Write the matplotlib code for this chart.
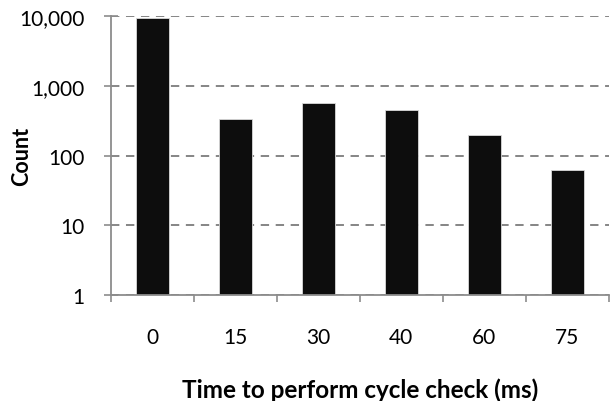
import matplotlib
matplotlib.use("Agg")
import matplotlib.pyplot as plt
from matplotlib.ticker import FixedLocator, FuncFormatter

categories = ["0", "15", "30", "40", "60", "75"]
counts = [9600, 339, 569, 446, 197, 63]
y_ticks = [1, 10, 100, 1000, 10000]

plt.rcParams['font.family'] = ['Lato', 'DejaVu Sans']

fig = plt.figure(figsize=(6.10, 4.02), dpi=100)
ax = fig.add_axes([0.1815, 0.2644, 0.8165, 0.6921])

x = list(range(len(categories)))
ax.bar(x, counts, width=0.4, color="#0d0d0d", edgecolor="#d9d9d9", linewidth=0.6, zorder=3)

ax.set_yscale("log")
ax.set_ylim(1, 10000)
ax.set_xlim(-0.5, len(categories) - 0.5)

ax.yaxis.set_major_locator(FixedLocator(y_ticks))
ax.yaxis.set_minor_locator(FixedLocator([]))
ax.yaxis.set_major_formatter(FuncFormatter(lambda v, p: f"{int(v):,}"))

ax.set_xticks(x)
ax.set_xticklabels(categories)
ax.set_xticks([i - 0.5 for i in range(len(categories) + 1)], minor=True)

grid_color = "#858585"
ax.grid(axis="y", which="major", linestyle=(0, (4.3, 3.4)), color=grid_color, linewidth=1.4, zorder=0)
for s in ["top", "right"]:
    ax.spines[s].set_visible(False)
for s in ["left", "bottom"]:
    ax.spines[s].set_color("#8c8c8c")
    ax.spines[s].set_linewidth(1.3)
    ax.spines[s].set_zorder(4)

ax.tick_params(axis="y", which="major", direction="inout", length=10, width=1.2,
               color="#8c8c8c", labelsize=15, pad=14, labelcolor="#000000")
ax.tick_params(axis="x", which="major", length=0, labelsize=15, pad=23)
ax.tick_params(axis="x", which="minor", direction="out", length=5, width=1.2, color="#8c8c8c")

ax.set_ylabel("Count", fontsize=15.5, fontweight="bold")
ax.yaxis.set_label_coords(-0.158, 0.5)
ax.set_xlabel("Time to perform cycle check (ms)", fontsize=17.5, fontweight="bold", labelpad=22)

fig.savefig("out.png", dpi=100)
